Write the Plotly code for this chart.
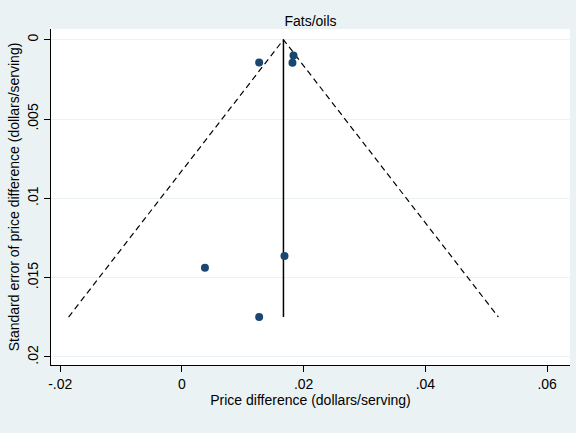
import plotly.graph_objects as go

# Study estimates (price difference) and standard errors
effect = [0.01833, 0.01816, 0.01269, 0.01685, 0.00378, 0.01269]
std_err = [0.00099, 0.00145, 0.00143, 0.01363, 0.01437, 0.01748]

# Pooled estimate line and pseudo 95% confidence limits
pooled_x = [0.01668, 0.01668]
pooled_y = [0.0, 0.01748]
funnel_x = [-0.01862, 0.01668, 0.05199]
funnel_y = [0.01748, 0.0, 0.01748]

x_ticks = [-0.02, 0, 0.02, 0.04, 0.06]
x_labels = ["-.02", "0", ".02", ".04", ".06"]
y_ticks = [0, 0.005, 0.01, 0.015, 0.02]
y_labels = ["0", ".005", ".01", ".015", ".02"]

font = dict(family="Liberation Sans, Arial, sans-serif", color="black", size=14)

fig = go.Figure()
fig.add_trace(go.Scatter(x=funnel_x, y=funnel_y, mode="lines",
                         line=dict(color="black", width=1.2, dash="6px,4px"),
                         showlegend=False, hoverinfo="skip"))
fig.add_trace(go.Scatter(x=pooled_x, y=pooled_y, mode="lines",
                         line=dict(color="black", width=1.5),
                         showlegend=False, hoverinfo="skip"))
fig.add_trace(go.Scatter(x=effect, y=std_err, mode="markers",
                         marker=dict(color="#1a476f", size=8),
                         showlegend=False))

fig.update_layout(
    width=576, height=433,
    margin=dict(l=51, r=6, t=29, b=68),
    paper_bgcolor="#eaf2f3", plot_bgcolor="white",
    font=font,
    title=dict(text="Fats/oils", x=0.5, xref="paper", xanchor="center",
               y=1, yref="paper", yanchor="bottom", pad=dict(b=3),
               font=dict(size=14, color="black", family=font["family"])),
    xaxis=dict(range=[-0.02151, 0.06376], tickvals=x_ticks, ticktext=x_labels,
               showgrid=False, zeroline=False, showline=True, linecolor="black",
               linewidth=1, ticks="outside", ticklen=6, tickcolor="black",
               tickfont=dict(size=14),
               title=dict(text="Price difference (dollars/serving)", standoff=0,
                          font=dict(size=14))),
    yaxis=dict(range=[0.020505, -0.000675], tickvals=y_ticks, ticktext=y_labels,
               showgrid=True, gridcolor="#eaf2f3", gridwidth=1, zeroline=False,
               showline=True, linecolor="black", linewidth=1, ticks="outside",
               ticklen=6, tickcolor="black", tickangle=-90, tickfont=dict(size=14),
               title=dict(text="Standard error of price difference (dollars/serving)",
                          standoff=2, font=dict(size=14))),
)

fig.write_html("out.html")
